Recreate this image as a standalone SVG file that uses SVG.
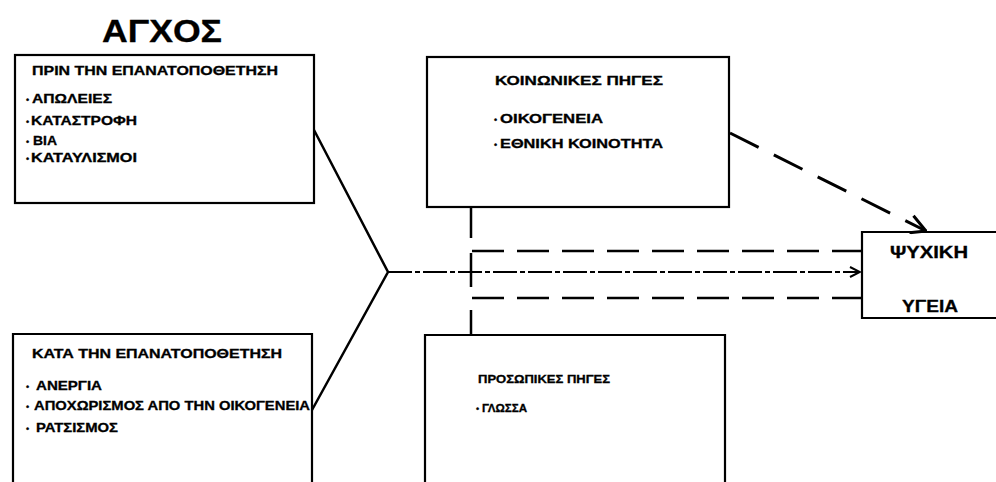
<svg xmlns="http://www.w3.org/2000/svg" width="996" height="482" viewBox="0 0 996 482">
<defs>
<style>
.box{fill:none;stroke:#000;stroke-width:2.2}
.t{font-family:"Liberation Sans",Arial,sans-serif;font-weight:bold;fill:#000;stroke:#000;stroke-width:0.3}
.s{font-size:12.5px}
.b{font-size:9px}
.line{fill:none;stroke:#000}
</style>
<marker id="arr" viewBox="0 0 12 12" refX="11" refY="6" markerWidth="12" markerHeight="12" markerUnits="userSpaceOnUse" orient="auto">
<path d="M1,1 L11,6 L1,11" fill="none" stroke="#000" stroke-width="2"/>
</marker>
<marker id="arr2" viewBox="0 0 20 20" refX="19" refY="10" markerWidth="20" markerHeight="20" markerUnits="userSpaceOnUse" orient="auto">
<path d="M1,2 L19,10 L5,19" fill="none" stroke="#000" stroke-width="3"/>
</marker>
</defs>
<rect width="996" height="482" fill="#fff"/>

<text class="t" x="102" y="42" font-size="31" textLength="120" lengthAdjust="spacingAndGlyphs">ΑΓΧΟΣ</text>

<g id="before">
<rect class="box" x="15" y="55" width="299" height="148"/>
<text class="t s" x="32" y="75" textLength="246" lengthAdjust="spacingAndGlyphs">ΠΡΙΝ ΤΗΝ ΕΠΑΝΑΤΟΠΟΘΕΤΗΣΗ</text>
<text class="t b" x="26" y="103">•</text><text class="t s" x="32" y="103" textLength="80" lengthAdjust="spacingAndGlyphs">ΑΠΩΛΕΙΕΣ</text>
<text class="t b" x="26" y="125">•</text><text class="t s" x="31" y="125" textLength="106" lengthAdjust="spacingAndGlyphs">ΚΑΤΑΣΤΡΟΦΗ</text>
<text class="t b" x="26" y="145">•</text><text class="t s" x="33" y="145" textLength="24" lengthAdjust="spacingAndGlyphs">ΒΙΑ</text>
<text class="t b" x="26" y="162">•</text><text class="t s" x="31" y="162" textLength="106" lengthAdjust="spacingAndGlyphs">ΚΑΤΑΥΛΙΣΜΟΙ</text>
</g>

<g id="during">
<path class="box" d="M13,484 V334 H312 V484"/>
<text class="t s" x="32" y="358" textLength="250" lengthAdjust="spacingAndGlyphs">ΚΑΤΑ ΤΗΝ ΕΠΑΝΑΤΟΠΟΘΕΤΗΣΗ</text>
<text class="t b" x="26" y="390">•</text><text class="t s" x="36" y="390" textLength="66" lengthAdjust="spacingAndGlyphs">ΑΝΕΡΓΙΑ</text>
<text class="t b" x="26" y="410">•</text><text class="t s" x="34" y="410" textLength="276" lengthAdjust="spacingAndGlyphs">ΑΠΟΧΩΡΙΣΜΟΣ ΑΠΟ ΤΗΝ ΟΙΚΟΓΕΝΕΙΑ</text>
<text class="t b" x="26" y="432">•</text><text class="t s" x="36" y="432" textLength="82" lengthAdjust="spacingAndGlyphs">ΡΑΤΣΙΣΜΟΣ</text>
</g>

<g id="social">
<rect class="box" x="427" y="57" width="302" height="150"/>
<text class="t s" x="495" y="85" textLength="168" lengthAdjust="spacingAndGlyphs">ΚΟΙΝΩΝΙΚΕΣ ΠΗΓΕΣ</text>
<text class="t b" x="494" y="123">•</text><text class="t s" x="500" y="123" textLength="103" lengthAdjust="spacingAndGlyphs">ΟΙΚΟΓΕΝΕΙΑ</text>
<text class="t b" x="494" y="148">•</text><text class="t s" x="500" y="148" textLength="163" lengthAdjust="spacingAndGlyphs">ΕΘΝΙΚΗ ΚΟΙΝΟΤΗΤΑ</text>
</g>

<g id="personal">
<path class="box" d="M425,484 V335 H725 V484"/>
<text class="t" x="478" y="383" font-size="11.5" textLength="132" lengthAdjust="spacingAndGlyphs">ΠΡΟΣΩΠΙΚΕΣ ΠΗΓΕΣ</text>
<text class="t b" x="476" y="412">•</text><text class="t" x="482" y="412" font-size="11" textLength="45" lengthAdjust="spacingAndGlyphs">ΓΛΩΣΣΑ</text>
</g>

<g id="health">
<path class="box" d="M998,232 H862 V318 H998"/>
<text class="t" x="890" y="258" font-size="16" textLength="78" lengthAdjust="spacingAndGlyphs">ΨΥΧΙΚΗ</text>
<text class="t" x="902" y="312" font-size="16" textLength="56" lengthAdjust="spacingAndGlyphs">ΥΓΕΙΑ</text>
</g>

<g id="connectors">
<path class="line" stroke-width="2.5" d="M314,130 L388,272 L312,410"/>
<path class="line" stroke-width="2" stroke-dasharray="24 3 5 3" d="M388,272 H860" marker-end="url(#arr)"/>
<path class="line" stroke-width="2.5" d="M471,207 V238 M471,253 V287 M471,310 V335"/>
<path class="line" stroke-width="2.5" stroke-dasharray="32 13" d="M472,251 H862"/>
<path class="line" stroke-width="2.5" stroke-dasharray="32 13" d="M472,298 H862"/>
<path class="line" stroke-width="3" stroke-dasharray="32 17" d="M730,133 L926,231" marker-end="url(#arr2)"/>
</g>
</svg>
